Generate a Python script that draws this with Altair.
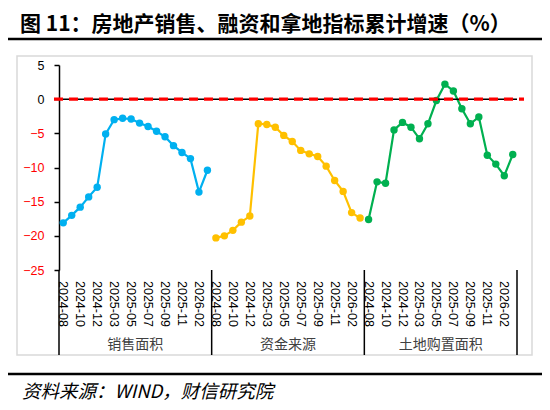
import altair as alt
import pandas as pd

groups = ["销售面积", "资金来源", "土地购置面积"]
colors = ["#00B0F0", "#FFC000", "#00B050"]
months = ["2024-08", "2024-09", "2024-10", "2024-11", "2024-12", "2025-02",
          "2025-03", "2025-04", "2025-05", "2025-06", "2025-07", "2025-08",
          "2025-09", "2025-10", "2025-11", "2025-12", "2026-02", "2026-03"]
sales = [-18.1, -17.0, -15.8, -14.3, -12.9, -5.1, -3.0, -2.8, -2.9, -3.5,
         -4.0, -4.7, -5.5, -6.8, -7.8, -8.7, -13.6, -10.4]
funds = [-20.3, -20.0, -19.2, -18.0, -17.1, -3.6, -3.7, -4.1, -5.3, -6.2,
         -7.5, -8.0, -8.4, -9.8, -11.9, -13.5, -16.6, -17.4]
land = [-17.6, -12.1, -12.3, -4.5, -3.4, -4.1, -5.8, -3.6, -0.2, 2.2,
        1.2, -1.4, -3.6, -2.6, -8.2, -9.5, -11.2, -8.1]
y_ticks = [5, 0, -5, -10, -15, -20, -25]

title_text = "图 11：房地产销售、融资和拿地指标累计增速（%）"
source_text = "资料来源：WIND，财信研究院"

n = len(months)
rows, labels = [], []
for gi, (g, vals) in enumerate(zip(groups, [sales, funds, land])):
    for mi, (m, v) in enumerate(zip(months, vals)):
        rows.append({"group": g, "month": m, "pos": gi * n + mi + 0.5, "value": v})
        if mi % 2 == 0:
            labels.append({"pos": gi * n + mi + 0.5, "label": m})
df = pd.DataFrame(rows)
lab_df = pd.DataFrame(labels)
grp_df = pd.DataFrame({"group": groups, "pos": [n * (i + 0.5) for i in range(3)]})
div_df = pd.DataFrame({"pos": [n * i for i in range(4)]})
zero_df = pd.DataFrame({"pos": [0], "pos2": [3 * n], "value": [0]})
one = pd.DataFrame({"k": [0]})

xs = alt.Scale(domain=[0, 3 * n], nice=False, zero=False)
ys = alt.Scale(domain=[-25, 5], nice=False, zero=False)
CJK = "Noto Sans CJK SC"
LAT = "Liberation Sans"

X = alt.X("pos:Q", scale=xs, axis=None)
Y = alt.Y("value:Q", scale=ys, title=None,
          axis=alt.Axis(values=y_ticks, grid=False, domainColor="#000000",
                        domainWidth=1.5, tickColor="#000000", tickWidth=1.5,
                        tickSize=5, labelFont=LAT, labelFontSize=12.5,
                        labelPadding=10, title=None,
                        labelColor={"condition": {"test": "datum.value < 0", "value": "#FF0000"},
                                    "value": "#000000"}))
color = alt.Color("group:N", scale=alt.Scale(domain=groups, range=colors), legend=None)

lines = alt.Chart(df).mark_line(strokeWidth=2.2).encode(
    x=X, y=Y, color=color, detail="group:N")
points = alt.Chart(df).mark_point(filled=True, size=55, opacity=1, strokeWidth=0).encode(
    x=X, y=Y, color=color)

zero_line = alt.Chart(zero_df).mark_rule(color="#000000", strokeWidth=1.5).encode(
    x=X, x2="pos2:Q", y=Y)
red_dash = alt.Chart(zero_df).mark_rule(color="#FF0000", strokeWidth=3.2,
                                        strokeDash=[9, 6]).encode(
    x=alt.value(-5), x2=alt.value(465), y=Y)

dividers = alt.Chart(div_df).mark_rule(color="#000000", strokeWidth=1.5).encode(
    x=X, y=alt.value(205), y2=alt.value(290))

xlabels = alt.Chart(lab_df).mark_text(angle=90, align="left", baseline="middle",
                                      font=LAT, fontSize=12.5, color="#000000").encode(
    x=X, y=alt.value(216), text="label:N")

glabels = alt.Chart(grp_df).mark_text(align="center", baseline="middle",
                                      font=CJK, fontSize=14, color="#404040").encode(
    x=X, y=alt.value(280), text="group:N")

border = alt.Chart(one).mark_rect(filled=False, stroke="#D9D9D9", strokeWidth=1.5).encode(
    x=alt.value(-42), x2=alt.value(473), y=alt.value(-9), y2=alt.value(290))

title = alt.Chart(one).mark_text(align="left", baseline="middle", font=CJK,
                                 fontSize=21, fontWeight="bold", color="#000000",
                                 text=title_text).encode(
    x=alt.value(-39), y=alt.value(-40))
title_rule = alt.Chart(one).mark_rule(color="#000000", strokeWidth=2.5).encode(
    x=alt.value(-52), x2=alt.value(483), y=alt.value(-26))
src_rule = alt.Chart(one).mark_rule(color="#000000", strokeWidth=2.5).encode(
    x=alt.value(-52), x2=alt.value(483), y=alt.value(309))
source = alt.Chart(one).mark_text(align="left", baseline="middle", font=CJK,
                                  fontSize=18.5, fontStyle="italic", color="#000000",
                                  text=source_text).encode(
    x=alt.value(-37), y=alt.value(327))

chart = alt.layer(
    lines, points, border, zero_line, red_dash, dividers, xlabels, glabels,
    title, title_rule, src_rule, source
).properties(
    width=458, height=205,
    autosize=alt.AutoSizeParams(type="none"),
    padding={"left": 51, "top": 57, "right": 25, "bottom": 136},
    background="#FFFFFF",
).configure_view(stroke=None)

chart.save("out.html", embed_options={"renderer": "svg", "actions": False})
